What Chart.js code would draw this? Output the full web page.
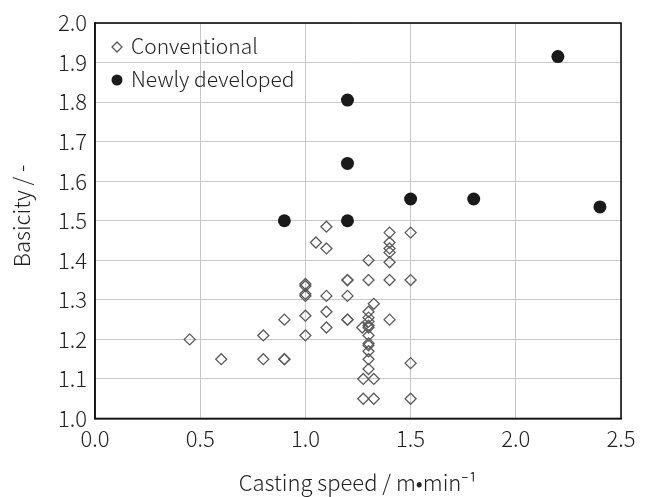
<!DOCTYPE html>
<html>
<head>
<meta charset="utf-8">
<script src="https://cdn.jsdelivr.net/npm/chart.js@4.4.0/dist/chart.umd.min.js"></script>
<style>
  html, body { margin: 0; padding: 0; background: #fff; }
  #wrap { width: 650px; height: 497px; }
</style>
</head>
<body>
<div id="wrap"><canvas id="basicityChart"></canvas></div>
<script>
// DATA
const conventionalSpeed = [0.45, 0.6, 0.8, 0.8, 0.9, 0.9, 0.9, 1.0, 1.0, 1.0, 1.0, 1.0, 1.0, 1.05, 1.1, 1.1, 1.1, 1.1, 1.1,
  1.2, 1.2, 1.2, 1.2, 1.2, 1.3, 1.3, 1.325, 1.3, 1.3, 1.3, 1.3, 1.3, 1.27, 1.3, 1.3, 1.3, 1.3, 1.3, 1.3,
  1.275, 1.325, 1.275, 1.325, 1.4, 1.4, 1.4, 1.4, 1.4, 1.4, 1.4, 1.5, 1.5, 1.5, 1.5];
const conventionalBasicity = [1.20, 1.15, 1.21, 1.15, 1.25, 1.15, 1.15, 1.34, 1.335, 1.315, 1.31, 1.26, 1.21, 1.445, 1.485, 1.43, 1.31, 1.27, 1.23,
  1.35, 1.35, 1.31, 1.25, 1.25, 1.40, 1.35, 1.29, 1.27, 1.255, 1.245, 1.235, 1.23, 1.23, 1.21, 1.19, 1.185, 1.17, 1.15, 1.125,
  1.10, 1.10, 1.05, 1.05, 1.47, 1.445, 1.43, 1.42, 1.395, 1.35, 1.25, 1.47, 1.35, 1.14, 1.05];
const newSpeed = [0.9, 1.2, 1.2, 1.2, 1.5, 1.8, 2.2, 2.4];
const newBasicity = [1.50, 1.805, 1.645, 1.50, 1.555, 1.555, 1.915, 1.535];
const seriesNames = ["Conventional", "Newly developed"];
const xTitle = "Casting speed / m\u2022min\u207B\u00B9";
// leading spaces nudge the rotated title up a little, like the original
const yTitle = "  Basicity / -";

const toPoints = (xs, ys) => xs.map((x, i) => ({ x: x, y: ys[i] }));

const FONT = "'Noto Sans CJK JP', 'Noto Sans', sans-serif";
const TEXT_COLOR = "#222";

// LEGEND + FRAME (drawn inside the plot area)
const framePlugin = {
  id: "frame",
  afterDraw(chart) {
    const { ctx, chartArea: a } = chart;
    ctx.save();
    ctx.strokeStyle = "#111";
    ctx.lineWidth = 1.6;
    ctx.strokeRect(a.left, a.top, a.right - a.left, a.bottom - a.top);

    // legend
    ctx.font = "300 21px " + FONT;
    ctx.textBaseline = "middle";
    const rows = [a.top + 23, a.top + 56];
    chart.data.datasets.forEach((ds, i) => {
      const mx = a.left + 22;
      const my = rows[i] + 1;
      if (ds.pointStyle === "rectRot") {
        ctx.strokeStyle = ds.borderColor;
        ctx.lineWidth = 1.3;
        ctx.beginPath();
        ctx.moveTo(mx - 5, my); ctx.lineTo(mx, my - 5); ctx.lineTo(mx + 5, my); ctx.lineTo(mx, my + 5);
        ctx.closePath();
        ctx.stroke();
      } else {
        ctx.fillStyle = ds.backgroundColor;
        ctx.beginPath();
        ctx.arc(mx, my, 5.5, 0, Math.PI * 2);
        ctx.fill();
      }
      ctx.fillStyle = TEXT_COLOR;
      ctx.fillText(ds.label, a.left + 36, rows[i]);
    });
    ctx.restore();
  }
};

// CHART
const ctx = document.getElementById("basicityChart").getContext("2d");

const chart = new Chart(ctx, {
  type: "scatter",
  data: {
    datasets: [{
      label: seriesNames[0],
      data: toPoints(conventionalSpeed, conventionalBasicity),
      pointStyle: "rectRot",
      pointRadius: 5.5,
      borderColor: "#5a5a5a",
      borderWidth: 1.3,
      backgroundColor: "rgba(0,0,0,0)"
    }, {
      label: seriesNames[1],
      data: toPoints(newSpeed, newBasicity),
      pointStyle: "circle",
      pointRadius: 6.5,
      borderWidth: 0,
      borderColor: "#1a1a1a",
      backgroundColor: "#1a1a1a"
    }]
  },
  options: {
    responsive: true,
    maintainAspectRatio: false,
    animation: false,
    layout: { padding: { top: 23, right: 29, left: 0, bottom: 0 } },
    plugins: {
      legend: { display: false },
      tooltip: { enabled: false }
    },
    scales: {
      x: {
        type: "linear",
        min: 0,
        max: 2.5,
        ticks: {
          stepSize: 0.5,
          color: TEXT_COLOR,
          font: { family: FONT, size: 22, weight: 300 },
          padding: 7,
          callback: (v) => v.toFixed(1)
        },
        grid: { color: "#c8c8c8", lineWidth: 1, drawTicks: false },
        border: { color: "#111", width: 1.6 },
        title: {
          display: true,
          text: xTitle,
          color: TEXT_COLOR,
          font: { family: FONT, size: 22, weight: 300 },
          padding: { top: 10, bottom: 1 }
        },
        afterFit: (scale) => { scale.height = 78.5; }
      },
      y: {
        type: "linear",
        min: 1.0,
        max: 2.0,
        ticks: {
          stepSize: 0.1,
          color: TEXT_COLOR,
          font: { family: FONT, size: 22, weight: 300 },
          padding: 8,
          callback: (v) => v.toFixed(1)
        },
        grid: { color: "#c8c8c8", lineWidth: 1, drawTicks: false },
        border: { color: "#111", width: 1.6 },
        title: {
          display: true,
          text: yTitle,
          color: TEXT_COLOR,
          font: { family: FONT, size: 22, weight: 300 },
          padding: { top: 8, bottom: 10 }
        },
        afterFit: (scale) => { scale.width = 95; }
      }
    }
  },
  plugins: [framePlugin]
});
</script>
</body>
</html>
